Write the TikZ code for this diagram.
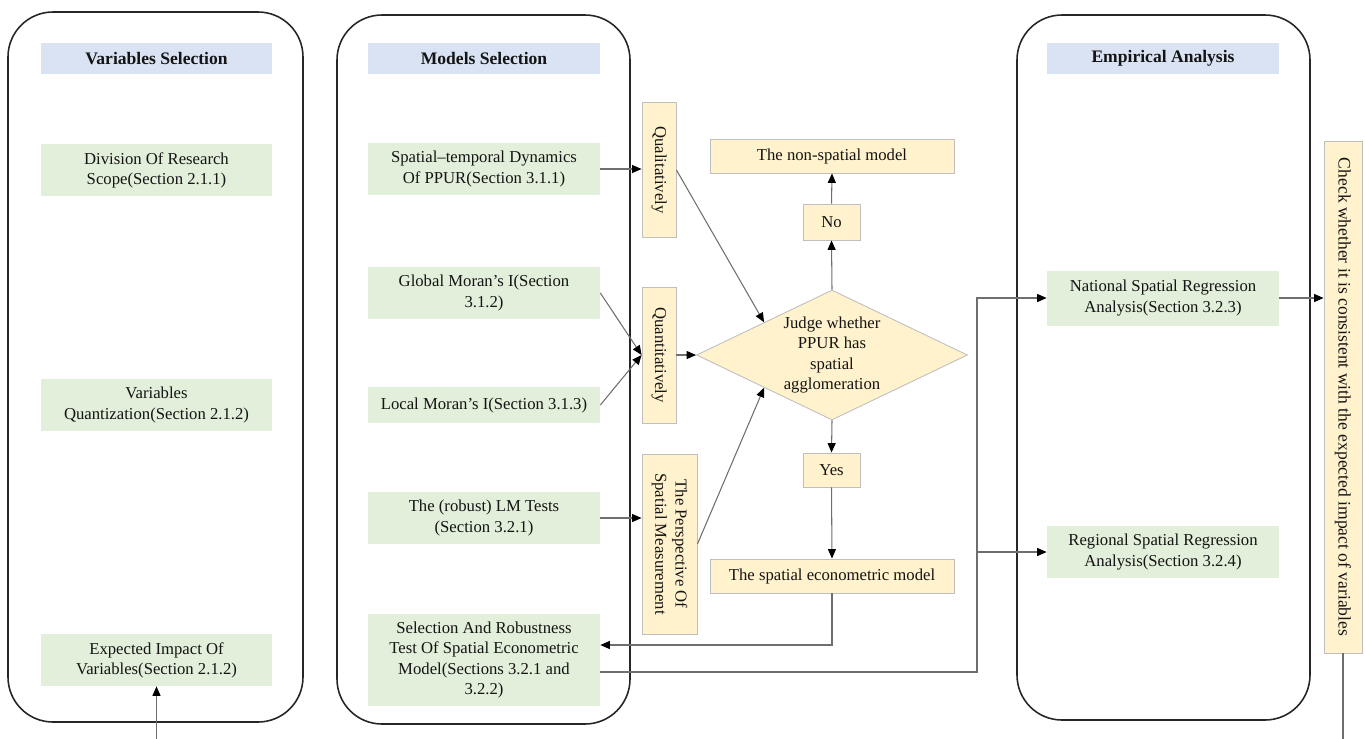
\documentclass[tikz,border=0pt]{standalone}
\usepackage{fontspec}
\setmainfont{Liberation Serif}
\usetikzlibrary{shapes.geometric, arrows.meta, positioning, calc}
\definecolor{hdr}{RGB}{218,227,243}
\definecolor{grn}{RGB}{226,239,218}
\definecolor{ylw}{RGB}{255,242,204}
\definecolor{ylwline}{RGB}{191,191,191}
\definecolor{conn}{RGB}{110,110,110}
\tikzset{
  panel/.style={draw=black!85, line width=0.9pt, rounded corners=0.9cm},
  header/.style={fill=hdr, minimum width=4.64cm, minimum height=0.62cm, font=\bfseries},
  task/.style={fill=grn, minimum width=4.64cm, minimum height=1.04cm, align=center, inner sep=1pt},
  judgebox/.style={fill=ylw, draw=ylwline, line width=0.5pt, align=center, inner sep=1pt},
  vbox/.style={judgebox, rotate=-90},
  flow/.style={draw=conn, line width=0.6pt, -{Triangle[length=0.19cm, width=0.16cm, color=black]}},
}

\begin{document}
\begin{tikzpicture}[x=0.02cm, y=-0.02cm, font=\fontsize{9.5}{11.5}\selectfont, text=black!92]
  \clip (0,0) rectangle (1365,738);
  % panels
  \draw[panel] (8,12) rectangle (303,722);
  \draw[panel] (337,15) rectangle (630,724);
  \draw[panel] (1017,15) rectangle (1310,720);

  \node[header] (hvar) at (156.5,58.5) {Variables Selection};
  \node[header] (hmod) at (484,58.5) {Models Selection};
  \node[header] (hemp) at (1163,58.5) {Empirical Analysis};

  % variables
  \node[task] (scope) at (156.5,170) {Division Of Research\\Scope(Section 2.1.1)};
  \node[task] (quantiz) at (156.5,405) {Variables\\Quantization(Section 2.1.2)};
  \node[task] (impact) at (156.5,660) {Expected Impact Of\\Variables(Section 2.1.2)};

  % models
  \node[task] (dyn) at (484,169) {Spatial–temporal Dynamics\\Of PPUR(Section 3.1.1)};
  \node[task] (gmoran) at (484,293) {Global Moran’s I(Section\\3.1.2)};
  \node[task, minimum height=0.72cm] (lmoran) at (484,405) {Local Moran’s I(Section 3.1.3)};
  \node[task] (lmtest) at (484,518) {The (robust) LM Tests\\(Section 3.2.1)};
  \node[task, minimum height=1.84cm] (robust) at (484,660) {Selection And Robustness\\Test Of Spatial Econometric\\Model(Sections 3.2.1 and\\3.2.2)};

  \node[vbox, minimum width=2.7cm, minimum height=0.68cm] (qual) at (659,170) {Qualitatively};
  \node[vbox, minimum width=2.72cm, minimum height=0.68cm] (quant) at (659,355) {Quantitatively};
  \node[vbox, minimum width=3.6cm, minimum height=1.1cm] (persp) at (669.5,544) {The Perspective Of\\Spatial Measurement};

  \node[judgebox, diamond, aspect=2.08, minimum width=5.42cm, minimum height=2.6cm, inner sep=0pt] (judge) at (832,355) {Judge whether\\PPUR has\\spatial\\agglomeration};
  \node[judgebox, minimum width=1.14cm, minimum height=0.72cm] (no) at (831.5,222) {No};
  \node[judgebox, minimum width=4.88cm, minimum height=0.68cm] (nonsp) at (832,156) {The non-spatial model};
  \node[judgebox, minimum width=1.14cm, minimum height=0.68cm] (yes) at (831.5,470) {Yes};
  \node[judgebox, minimum width=4.88cm, minimum height=0.68cm] (spmod) at (832,576) {The spatial econometric model};

  % empirical
  \node[task, minimum height=1.1cm] (natl) at (1163,298) {National Spatial Regression\\Analysis(Section 3.2.3)};
  \node[task] (regl) at (1163,552) {Regional Spatial Regression\\Analysis(Section 3.2.4)};
  \node[vbox, minimum width=10.24cm, minimum height=0.76cm, font=\fontsize{10}{12}\selectfont] (check) at (1343,397) {Check whether it is consistent with the expected impact of variables};

  \coordinate (bus) at (977,0);
  \coordinate (loop) at (0,760);

  \draw[flow] (dyn.east) -- (dyn.east -| qual.south);
  \draw[flow] (qual.north) -- (judge.north west);
  \draw[flow] (gmoran.east) -- (quant.south);
  \draw[flow] (lmoran.east) -- (quant.south);
  \draw[flow] (quant.north) -- (judge.west);
  \draw[flow] (lmtest.east) -- (lmtest.east -| persp.south);
  \draw[flow] (persp.north) -- (judge.south west);
  \draw[flow] (judge.north) -- (no.south);
  \draw[flow] (no.north) -- (nonsp.south);
  \draw[flow] (judge.south) -- (yes.north);
  \draw[flow] (yes.south) -- (spmod.north);
  \draw[flow] (spmod.south) |- ([yshift=0.3cm]robust.east);
  \draw[flow] ([yshift=-0.24cm]robust.east) -| (bus |- natl.west) -- (natl.west);
  \draw[flow] (bus |- regl.west) -- (regl.west);
  \draw[flow] (natl.east) -- (natl.east -| check.south);
  \draw[flow] (check.east) -- (check.east |- loop) -- (impact.south |- loop) -- (impact.south);
\end{tikzpicture}
\end{document}
